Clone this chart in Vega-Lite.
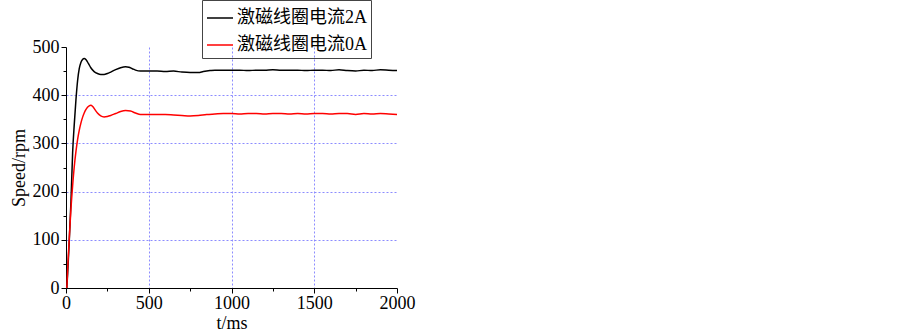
{
  "$schema": "https://vega.github.io/schema/vega-lite/v6.json",
  "width": 331,
  "height": 241,
  "autosize": {"type": "none"},
  "padding": {"left": 66, "top": 47, "right": 506, "bottom": 46},
  "background": "white",
  "config": {"view": {"stroke": null}},
  "data": {"values": [
    {"t":5,"v":0,"s":"激磁线圈电流2A"},{"t":10,"v":30,"s":"激磁线圈电流2A"},{"t":20,"v":100,"s":"激磁线圈电流2A"},{"t":30,"v":180,"s":"激磁线圈电流2A"},{"t":40,"v":280,"s":"激磁线圈电流2A"},{"t":50,"v":340,"s":"激磁线圈电流2A"},{"t":60,"v":390,"s":"激磁线圈电流2A"},{"t":70,"v":430,"s":"激磁线圈电流2A"},{"t":80,"v":455,"s":"激磁线圈电流2A"},{"t":90,"v":468,"s":"激磁线圈电流2A"},{"t":100,"v":474,"s":"激磁线圈电流2A"},{"t":110,"v":476,"s":"激磁线圈电流2A"},{"t":120,"v":474,"s":"激磁线圈电流2A"},{"t":135,"v":466,"s":"激磁线圈电流2A"},{"t":150,"v":457,"s":"激磁线圈电流2A"},{"t":170,"v":449,"s":"激磁线圈电流2A"},{"t":190,"v":445,"s":"激磁线圈电流2A"},{"t":210,"v":443,"s":"激磁线圈电流2A"},{"t":230,"v":443,"s":"激磁线圈电流2A"},{"t":250,"v":445,"s":"激磁线圈电流2A"},{"t":270,"v":448,"s":"激磁线圈电流2A"},{"t":300,"v":453,"s":"激磁线圈电流2A"},{"t":330,"v":457,"s":"激磁线圈电流2A"},{"t":360,"v":459,"s":"激磁线圈电流2A"},{"t":380,"v":458,"s":"激磁线圈电流2A"},{"t":400,"v":455,"s":"激磁线圈电流2A"},{"t":420,"v":452,"s":"激磁线圈电流2A"},{"t":450,"v":450,"s":"激磁线圈电流2A"},{"t":500,"v":450,"s":"激磁线圈电流2A"},{"t":550,"v":450,"s":"激磁线圈电流2A"},{"t":600,"v":449,"s":"激磁线圈电流2A"},{"t":650,"v":450,"s":"激磁线圈电流2A"},{"t":700,"v":448,"s":"激磁线圈电流2A"},{"t":750,"v":447,"s":"激磁线圈电流2A"},{"t":800,"v":447,"s":"激磁线圈电流2A"},{"t":830,"v":449,"s":"激磁线圈电流2A"},{"t":870,"v":451,"s":"激磁线圈电流2A"},{"t":900,"v":452,"s":"激磁线圈电流2A"},{"t":950,"v":452,"s":"激磁线圈电流2A"},{"t":1000,"v":452,"s":"激磁线圈电流2A"},{"t":1050,"v":452,"s":"激磁线圈电流2A"},{"t":1100,"v":451,"s":"激磁线圈电流2A"},{"t":1150,"v":452,"s":"激磁线圈电流2A"},{"t":1200,"v":452,"s":"激磁线圈电流2A"},{"t":1250,"v":453,"s":"激磁线圈电流2A"},{"t":1300,"v":452,"s":"激磁线圈电流2A"},{"t":1350,"v":452,"s":"激磁线圈电流2A"},{"t":1400,"v":452,"s":"激磁线圈电流2A"},{"t":1450,"v":451,"s":"激磁线圈电流2A"},{"t":1500,"v":452,"s":"激磁线圈电流2A"},{"t":1550,"v":452,"s":"激磁线圈电流2A"},{"t":1600,"v":451,"s":"激磁线圈电流2A"},{"t":1650,"v":453,"s":"激磁线圈电流2A"},{"t":1700,"v":451,"s":"激磁线圈电流2A"},{"t":1750,"v":450,"s":"激磁线圈电流2A"},{"t":1800,"v":452,"s":"激磁线圈电流2A"},{"t":1850,"v":451,"s":"激磁线圈电流2A"},{"t":1900,"v":453,"s":"激磁线圈电流2A"},{"t":1950,"v":452,"s":"激磁线圈电流2A"},{"t":2000,"v":451,"s":"激磁线圈电流2A"},
    {"t":5,"v":0,"s":"激磁线圈电流0A"},{"t":10,"v":40,"s":"激磁线圈电流0A"},{"t":20,"v":105,"s":"激磁线圈电流0A"},{"t":30,"v":165,"s":"激磁线圈电流0A"},{"t":40,"v":212,"s":"激磁线圈电流0A"},{"t":50,"v":252,"s":"激磁线圈电流0A"},{"t":60,"v":283,"s":"激磁线圈电流0A"},{"t":70,"v":308,"s":"激磁线圈电流0A"},{"t":80,"v":327,"s":"激磁线圈电流0A"},{"t":90,"v":342,"s":"激磁线圈电流0A"},{"t":100,"v":354,"s":"激磁线圈电流0A"},{"t":110,"v":363,"s":"激磁线圈电流0A"},{"t":120,"v":370,"s":"激磁线圈电流0A"},{"t":130,"v":375,"s":"激磁线圈电流0A"},{"t":140,"v":378,"s":"激磁线圈电流0A"},{"t":150,"v":379,"s":"激磁线圈电流0A"},{"t":160,"v":377,"s":"激磁线圈电流0A"},{"t":175,"v":370,"s":"激磁线圈电流0A"},{"t":190,"v":363,"s":"激磁线圈电流0A"},{"t":210,"v":357,"s":"激磁线圈电流0A"},{"t":230,"v":355,"s":"激磁线圈电流0A"},{"t":250,"v":356,"s":"激磁线圈电流0A"},{"t":270,"v":358,"s":"激磁线圈电流0A"},{"t":300,"v":362,"s":"激磁线圈电流0A"},{"t":330,"v":366,"s":"激磁线圈电流0A"},{"t":360,"v":368,"s":"激磁线圈电流0A"},{"t":390,"v":367,"s":"激磁线圈电流0A"},{"t":420,"v":363,"s":"激磁线圈电流0A"},{"t":450,"v":360,"s":"激磁线圈电流0A"},{"t":500,"v":360,"s":"激磁线圈电流0A"},{"t":550,"v":360,"s":"激磁线圈电流0A"},{"t":600,"v":360,"s":"激磁线圈电流0A"},{"t":650,"v":359,"s":"激磁线圈电流0A"},{"t":700,"v":358,"s":"激磁线圈电流0A"},{"t":750,"v":357,"s":"激磁线圈电流0A"},{"t":800,"v":358,"s":"激磁线圈电流0A"},{"t":850,"v":360,"s":"激磁线圈电流0A"},{"t":900,"v":361,"s":"激磁线圈电流0A"},{"t":950,"v":362,"s":"激磁线圈电流0A"},{"t":1000,"v":362,"s":"激磁线圈电流0A"},{"t":1050,"v":361,"s":"激磁线圈电流0A"},{"t":1100,"v":362,"s":"激磁线圈电流0A"},{"t":1150,"v":362,"s":"激磁线圈电流0A"},{"t":1200,"v":361,"s":"激磁线圈电流0A"},{"t":1250,"v":362,"s":"激磁线圈电流0A"},{"t":1300,"v":362,"s":"激磁线圈电流0A"},{"t":1350,"v":361,"s":"激磁线圈电流0A"},{"t":1400,"v":362,"s":"激磁线圈电流0A"},{"t":1450,"v":361,"s":"激磁线圈电流0A"},{"t":1500,"v":362,"s":"激磁线圈电流0A"},{"t":1550,"v":362,"s":"激磁线圈电流0A"},{"t":1600,"v":361,"s":"激磁线圈电流0A"},{"t":1650,"v":362,"s":"激磁线圈电流0A"},{"t":1700,"v":362,"s":"激磁线圈电流0A"},{"t":1750,"v":360,"s":"激磁线圈电流0A"},{"t":1800,"v":362,"s":"激磁线圈电流0A"},{"t":1850,"v":361,"s":"激磁线圈电流0A"},{"t":1900,"v":362,"s":"激磁线圈电流0A"},{"t":1950,"v":361,"s":"激磁线圈电流0A"},{"t":2000,"v":360,"s":"激磁线圈电流0A"}
  ]},
  "mark": {"type": "line", "strokeWidth": 1.5, "interpolate": "monotone"},
  "encoding": {
    "x": {
      "field": "t", "type": "quantitative",
      "scale": {"domain": [0, 2000], "nice": false, "zero": false},
      "axis": {
        "title": "t/ms",
        "values": [0,250,500,750,1000,1250,1500,1750,2000],
        "labelExpr": "datum.value % 500 === 0 ? datum.label : ''",
        "format": "d",
        "labelFont": "Liberation Serif", "labelFontSize": 18, "labelColor": "black",
        "titleFont": "Liberation Serif", "titleFontSize": 18, "titleFontWeight": "normal", "titleColor": "black",
        "titlePadding": 2,
        "labelPadding": 1,
        "labelFlush": false,
        "labelOverlap": false,
        "domainColor": "black", "domainWidth": 1,
        "tickColor": "black",
        "tickSize": {"condition": {"test": "datum.value % 500 === 0", "value": 5}, "value": 3},
        "grid": true,
        "gridColor": "#8c8cff",
        "gridDash": [2, 2],
        "gridWidth": 1,
        "gridOpacity": {"condition": {"test": "datum.value % 500 === 0 && datum.value > 0 && datum.value < 2000", "value": 1}, "value": 0}
      }
    },
    "y": {
      "field": "v", "type": "quantitative",
      "scale": {"domain": [0, 500], "nice": false},
      "axis": {
        "title": "Speed/rpm",
        "values": [0,50,100,150,200,250,300,350,400,450,500],
        "labelExpr": "datum.value % 100 === 0 ? datum.label : ''",
        "format": "d",
        "labelFont": "Liberation Serif", "labelFontSize": 18, "labelColor": "black",
        "titleFont": "Liberation Serif", "titleFontSize": 18, "titleFontWeight": "normal", "titleColor": "black",
        "titlePadding": 4,
        "labelPadding": 2,
        "labelFlush": false,
        "labelOverlap": false,
        "domainColor": "black", "domainWidth": 1,
        "tickColor": "black",
        "tickSize": {"condition": {"test": "datum.value % 100 === 0", "value": 5}, "value": 3},
        "grid": true,
        "gridColor": "#8c8cff",
        "gridDash": [2, 2],
        "gridWidth": 1,
        "gridOpacity": {"condition": {"test": "datum.value % 100 === 0 && datum.value > 0 && datum.value < 500", "value": 1}, "value": 0}
      }
    },
    "color": {
      "field": "s", "type": "nominal",
      "scale": {"domain": ["激磁线圈电流2A", "激磁线圈电流0A"], "range": ["black", "#ff0000"]},
      "legend": {
        "title": null,
        "orient": "none",
        "legendX": 136,
        "legendY": -47,
        "strokeColor": "#444",
        "padding": 4,
        "symbolType": "stroke",
        "symbolSize": 676,
        "symbolStrokeWidth": 1.5,
        "labelFont": "Liberation Serif, Noto Sans CJK SC",
        "labelFontSize": 18,
        "labelColor": "black",
        "labelLimit": 300,
        "rowPadding": 4,
        "labelOffset": 3
      }
    }
  }
}
